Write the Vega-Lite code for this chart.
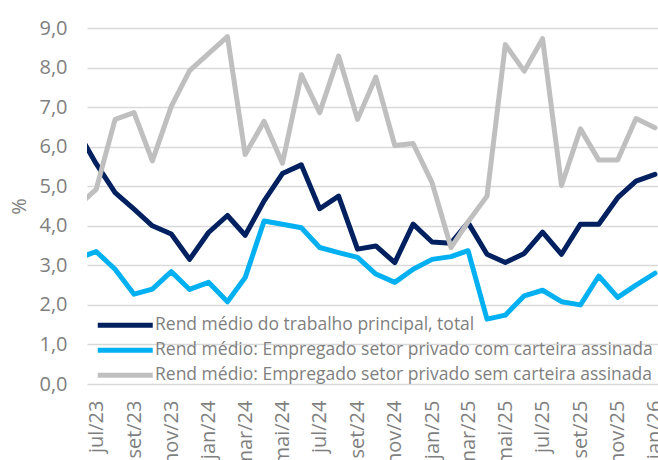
{
  "$schema": "https://vega.github.io/schema/vega-lite/v6.json",
  "width": 571,
  "height": 356,
  "autosize": {"type": "none"},
  "padding": {"left": 87, "top": 28, "right": 0, "bottom": 76},
  "background": "white",
  "config": {
    "view": {"stroke": null},
    "locale": {
      "number": {"decimal": ",", "thousands": ".", "grouping": [3], "currency": ["R$", ""]},
      "time": {
        "dateTime": "%A, %e de %B de %Y. %X",
        "date": "%d/%m/%Y",
        "time": "%H:%M:%S",
        "periods": ["AM", "PM"],
        "days": ["Domingo", "Segunda", "Terça", "Quarta", "Quinta", "Sexta", "Sábado"],
        "shortDays": ["Dom", "Seg", "Ter", "Qua", "Qui", "Sex", "Sáb"],
        "months": ["Janeiro", "Fevereiro", "Março", "Abril", "Maio", "Junho", "Julho", "Agosto", "Setembro", "Outubro", "Novembro", "Dezembro"],
        "shortMonths": ["jan", "fev", "mar", "abr", "mai", "jun", "jul", "ago", "set", "out", "nov", "dez"]
      }
    }
  },
  "data": {
    "values": [
      {"m": "2023-06-01", "total": 6.37, "com": 3.17, "sem": 4.50},
      {"m": "2023-07-01", "total": 5.57, "com": 3.35, "sem": 4.92},
      {"m": "2023-08-01", "total": 4.84, "com": 2.90, "sem": 6.69},
      {"m": "2023-09-01", "total": 4.42, "com": 2.27, "sem": 6.86},
      {"m": "2023-10-01", "total": 4.00, "com": 2.40, "sem": 5.64},
      {"m": "2023-11-01", "total": 3.79, "com": 2.84, "sem": 7.02},
      {"m": "2023-12-01", "total": 3.15, "com": 2.39, "sem": 7.92},
      {"m": "2024-01-01", "total": 3.83, "com": 2.57, "sem": 8.35},
      {"m": "2024-02-01", "total": 4.26, "com": 2.08, "sem": 8.78},
      {"m": "2024-03-01", "total": 3.76, "com": 2.69, "sem": 5.80},
      {"m": "2024-04-01", "total": 4.63, "com": 4.12, "sem": 6.64},
      {"m": "2024-05-01", "total": 5.32, "com": 4.04, "sem": 5.58},
      {"m": "2024-06-01", "total": 5.54, "com": 3.95, "sem": 7.82},
      {"m": "2024-07-01", "total": 4.43, "com": 3.45, "sem": 6.86},
      {"m": "2024-08-01", "total": 4.75, "com": 3.32, "sem": 8.29},
      {"m": "2024-09-01", "total": 3.41, "com": 3.20, "sem": 6.69},
      {"m": "2024-10-01", "total": 3.49, "com": 2.78, "sem": 7.76},
      {"m": "2024-11-01", "total": 3.07, "com": 2.57, "sem": 6.03},
      {"m": "2024-12-01", "total": 4.04, "com": 2.90, "sem": 6.08},
      {"m": "2025-01-01", "total": 3.59, "com": 3.15, "sem": 5.09},
      {"m": "2025-02-01", "total": 3.56, "com": 3.22, "sem": 3.45},
      {"m": "2025-03-01", "total": 4.08, "com": 3.37, "sem": 4.10},
      {"m": "2025-04-01", "total": 3.28, "com": 1.64, "sem": 4.75},
      {"m": "2025-05-01", "total": 3.07, "com": 1.74, "sem": 8.58},
      {"m": "2025-06-01", "total": 3.30, "com": 2.23, "sem": 7.91},
      {"m": "2025-07-01", "total": 3.84, "com": 2.37, "sem": 8.73},
      {"m": "2025-08-01", "total": 3.28, "com": 2.08, "sem": 5.02},
      {"m": "2025-09-01", "total": 4.04, "com": 2.00, "sem": 6.45},
      {"m": "2025-10-01", "total": 4.04, "com": 2.73, "sem": 5.66},
      {"m": "2025-11-01", "total": 4.71, "com": 2.19, "sem": 5.66},
      {"m": "2025-12-01", "total": 5.13, "com": 2.50, "sem": 6.71},
      {"m": "2026-01-01", "total": 5.30, "com": 2.80, "sem": 6.48}
    ]
  },
  "transform": [{"fold": ["total", "com", "sem"], "as": ["serie", "valor"]}],
  "mark": {"type": "line", "clip": true, "strokeWidth": 5, "strokeCap": "round", "strokeJoin": "round"},
  "encoding": {
    "x": {
      "field": "m",
      "type": "temporal",
      "scale": {
        "type": "utc",
        "domain": [
          {"year": 2023, "month": 6, "date": 16, "utc": true},
          {"year": 2026, "month": 1, "date": 6, "utc": true}
        ]
      },
      "axis": {
        "title": null,
        "tickCount": {"interval": "month", "step": 2},
        "labelExpr": "utcFormat(datum.value, '%b/%y')",
        "labelAngle": -90,
        "labelAlign": "right",
        "labelBaseline": "middle",
        "labelPadding": 16,
        "labelFontSize": 20,
        "labelFont": "Open Sans",
        "labelColor": "#7f7f7f",
        "ticks": false,
        "domain": false,
        "grid": false,
        "labelOverlap": false,
        "labelFlush": false,
        "labelBound": false
      }
    },
    "y": {
      "field": "valor",
      "type": "quantitative",
      "scale": {"domain": [0, 9], "nice": false},
      "axis": {
        "title": "%",
        "values": [0, 1, 2, 3, 4, 5, 6, 7, 8, 9],
        "format": ".1f",
        "labelFontSize": 20,
        "labelFont": "Open Sans",
        "labelColor": "#7f7f7f",
        "labelPadding": 20,
        "grid": true,
        "gridColor": "#d9d9d9",
        "gridWidth": 1.3,
        "domain": false,
        "ticks": false,
        "titleFont": "Open Sans",
        "titleFontSize": 20,
        "titleFontWeight": "normal",
        "titleColor": "#7f7f7f",
        "titleAngle": 270,
        "titleX": -68,
        "titleY": 178,
        "titleAlign": "center",
        "titleBaseline": "middle"
      }
    },
    "color": {
      "field": "serie",
      "type": "nominal",
      "sort": ["total", "com", "sem"],
      "scale": {"domain": ["total", "com", "sem"], "range": ["#002060", "#00b0f0", "#bfbfbf"]},
      "legend": {
        "title": null,
        "orient": "none",
        "legendX": 29.5,
        "legendY": 288.5,
        "padding": 0,
        "symbolType": "M-5.5,0H5.5",
        "symbolSize": 100,
        "symbolStrokeWidth": 5,
        "labelOffset": 21,
        "labelFontSize": 17.5,
        "labelFont": "Open Sans",
        "labelColor": "#7f7f7f",
        "labelLimit": 700,
        "rowPadding": 4,
        "labelExpr": "datum.value == 'total' ? 'Rend médio do trabalho principal, total' : datum.value == 'com' ? 'Rend médio: Empregado setor privado com carteira assinada' : 'Rend médio: Empregado setor privado sem carteira assinada'"
      }
    }
  }
}
